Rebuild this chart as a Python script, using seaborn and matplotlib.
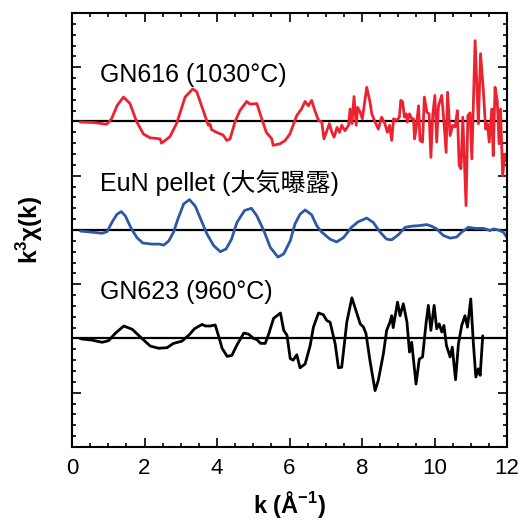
import numpy as np
import pandas as pd
import matplotlib
matplotlib.use("Agg")
import matplotlib.pyplot as plt
from matplotlib.ticker import MultipleLocator
import seaborn as sns

# k^3 chi(k) spectra (k in 1/Angstrom)
k_gn616 = [0.22, 0.6, 0.96, 1.09, 1.25, 1.42, 1.6, 1.78, 1.97, 2.15, 2.43, 2.47, 2.7, 2.89,
           3.12, 3.33, 3.44, 3.62, 3.76, 3.81, 3.85, 3.99, 4.17, 4.27, 4.36,
           4.5, 4.63, 4.82, 4.91, 5.1, 5.19, 5.28, 5.36, 5.51, 5.55, 5.74, 5.88, 6.01, 6.1,
           6.2, 6.33, 6.43, 6.52, 6.61, 6.7, 6.8, 6.89, 6.95, 7.03, 7.1, 7.17, 7.23, 7.31,
           7.38, 7.44, 7.53, 7.63, 7.67, 7.72, 7.78, 7.84, 7.88, 7.95, 8.01, 8.13, 8.22, 8.27,
           8.36, 8.45, 8.54, 8.63, 8.70, 8.76, 8.82, 8.87, 8.96, 9.03, 9.07, 9.12, 9.17, 9.22,
           9.25, 9.31, 9.37, 9.42, 9.45, 9.49, 9.56, 9.6, 9.67, 9.72, 9.79, 9.85, 9.9, 9.95,
           10.01, 10.06, 10.11, 10.2, 10.26, 10.32, 10.36, 10.43, 10.5, 10.57, 10.63, 10.68,
           10.73, 10.78, 10.87, 10.92, 10.98, 11.03, 11.12, 11.21, 11.27, 11.35, 11.41, 11.46,
           11.51, 11.58, 11.62, 11.67, 11.73, 11.78, 11.82, 11.88, 11.94, 11.98, 12.04]
chi_gn616 = [-0.01, -0.02, -0.05, 0.05, 0.3, 0.45, 0.33, 0.0, -0.23, -0.3, -0.32, -0.4, -0.28, -0.03,
             0.45, 0.6, 0.55, 0.2, -0.07, -0.05, -0.15, -0.2, -0.25, -0.35, -0.32,
             0.0, 0.2, 0.37, 0.32, 0.33, 0.14, -0.04, -0.2, -0.32, -0.44, -0.41, -0.35, -0.23, -0.07,
             0.11, 0.23, 0.37, 0.29, 0.39, 0.2, 0.02, -0.01, -0.32, -0.17, -0.04, -0.2, -0.29, -0.11,
             -0.2, -0.07, -0.17, -0.07, 0.23, -0.04, 0.46, -0.07, 0.26, 0.17, 0.05, 0.63, 0.36, 0.14,
             -0.01, -0.14, 0.08, -0.04, -0.2, -0.07, -0.35, 0.05, 0.02, 0.08, 0.39, 0.36, 0.08, 0.14,
             -0.01, 0.14, 0.05, 0.05, -0.32, -0.14, 0.29, -0.35, -0.38, 0.45, 0.17, 0.14, -0.66, 0.11,
             0.48, -0.38, 0.29, 0.48, -0.01, -0.57, 0.54, -0.26, -0.07, -0.1, 0.2, -0.81,
             -0.87, 0.08, -1.55, 0.11, 0.16, -0.69, 1.49, -0.04, 1.25, 0.54, -0.14, -0.04,
             -0.38, 0.23, -0.63, 0.63, 0.39, -0.41, 0.23, -1.0, -0.6, -0.72, -0.5]

k_eun = [0.23, 0.55, 0.83, 0.97, 1.1, 1.24, 1.36, 1.47, 1.64, 1.79, 1.95, 2.21, 2.41, 2.53, 2.67,
         2.8, 2.92, 3.08, 3.24, 3.4, 3.57, 3.72, 3.91, 4.09, 4.25, 4.4, 4.55, 4.76, 4.95, 5.1,
         5.29, 5.47, 5.68, 5.84, 6.02, 6.15, 6.29, 6.43, 6.61, 6.75, 6.89, 7.12, 7.3, 7.49, 7.71,
         7.89, 8.13, 8.31, 8.5, 8.68, 8.82, 9.0, 9.19, 9.37, 9.56, 9.69, 9.78, 9.92, 10.06, 10.24,
         10.43, 10.61, 10.75, 10.93, 11.12, 11.35, 11.53, 11.63, 11.76, 11.9, 12.03]
chi_eun = [-0.02, -0.04, -0.06, -0.03, 0.14, 0.29, 0.34, 0.26, 0.02, -0.14, -0.24, -0.26, -0.26, -0.28, -0.2,
           -0.04, 0.2, 0.48, 0.56, 0.44, 0.17, -0.07, -0.29, -0.4, -0.35, -0.17, 0.14, 0.36, 0.4, 0.26,
           -0.01, -0.32, -0.5, -0.44, -0.2, 0.11, 0.29, 0.37, 0.28, 0.08, -0.04, -0.17, -0.22, -0.14, 0.05,
           0.15, 0.22, 0.14, -0.04, -0.17, -0.18, -0.09, 0.05, 0.07, 0.08, 0.09, 0.1, 0.07, 0.02, -0.1,
           -0.15, -0.13, -0.04, 0.05, 0.03, 0.03, -0.01, 0.02, 0.0, -0.04, -0.17]

k_gn623 = [0.22, 0.28, 0.55, 0.83, 1.01, 1.2, 1.43, 1.66, 1.93, 2.16, 2.39, 2.62, 2.8, 3.03, 3.22,
           3.38, 3.59, 3.68, 3.82, 3.95, 4.05, 4.14, 4.28, 4.41, 4.55, 4.74, 4.87, 5.01, 5.1, 5.2,
           5.33, 5.43, 5.56, 5.75, 5.84, 5.93, 6.02, 6.1, 6.2, 6.29, 6.43, 6.57, 6.66, 6.8, 6.93,
           7.03, 7.12, 7.26, 7.35, 7.44, 7.58, 7.72, 7.86, 7.95, 8.04, 8.11, 8.22, 8.36, 8.45, 8.59,
           8.68, 8.77, 8.82, 8.86, 8.98, 9.05, 9.14, 9.24, 9.31, 9.37, 9.49, 9.58, 9.67, 9.77, 9.83,
           9.9, 9.99, 10.06, 10.13, 10.2, 10.26, 10.33, 10.43, 10.49, 10.58, 10.66, 10.75, 10.84,
           10.91, 11.0, 11.07, 11.14, 11.21, 11.26, 11.33]
chi_gn623 = [0.0, -0.01, -0.03, -0.07, -0.04, 0.1, 0.23, 0.17, 0.0, -0.14, -0.18, -0.17, -0.09, -0.05, 0.06,
             0.18, 0.26, 0.23, 0.23, 0.25, 0.03, -0.18, -0.33, -0.31, -0.12, 0.1, 0.08, 0.0, -0.02, -0.09,
             -0.09, 0.09, 0.37, 0.47, 0.15, 0.06, -0.37, -0.4, -0.3, -0.54, -0.47, -0.13, 0.21, 0.47, 0.44,
             0.33, 0.3, -0.1, -0.54, -0.53, 0.3, 0.75, 0.46, 0.27, 0.21, 0.09, -0.41, -0.96, -0.77, -0.28,
             0.15, 0.3, 0.42, 0.2, 0.67, 0.42, 0.64, 0.3, -0.25, -0.07, -0.84, -0.38, -0.34, 0.3, 0.61,
             0.15, 0.61, 0.18, 0.27, 0.12, 0.24, -0.13, -0.34, -0.16, -0.76, -0.1, 0.24, 0.42,
             0.21, 0.73, -0.07, -0.71, -0.56, -0.68, 0.05]

labels = ["GN616 (1030°C)", "EuN pellet (大気曝露)", "GN623 (960°C)"]
colors = ["#ec2230", "#2b59a4", "#000000"]
x_ticks = [0, 2, 4, 6, 8, 10, 12]

sns.set_theme(style="white")
plt.rcParams["font.family"] = ["Liberation Sans", "Noto Sans CJK JP", "DejaVu Sans"]
plt.rcParams["mathtext.fontset"] = "custom"
plt.rcParams["mathtext.rm"] = "Liberation Sans"
plt.rcParams["mathtext.bf"] = "Liberation Sans:bold"

fig = plt.figure(figsize=(5.26, 5.22), dpi=100)
ax = fig.add_axes([0.1369, 0.1437, 0.8270, 0.8314])

series = [(k_gn616, chi_gn616), (k_eun, chi_eun), (k_gn623, chi_gn623)]
offsets = [4.0, 2.0, 0.0]
for (kk, cc), off, col, lab in zip(series, offsets, colors, labels):
    ax.axhline(off, color="black", lw=1.6, zorder=1)
    df = pd.DataFrame({"k": kk, "y": np.asarray(cc) + off})
    sns.lineplot(data=df, x="k", y="y", ax=ax, color=col, lw=2.0,
                 sort=False, estimator=None, zorder=2)
    ax.text(0.77, off + 0.72, lab, fontsize=18, color="black", va="baseline", ha="left")

ax.set_xlim(0, 12)
ax.set_ylim(-2, 6)
ax.set_xticks(x_ticks)
ax.xaxis.set_minor_locator(MultipleLocator(0.5))
ax.yaxis.set_major_locator(MultipleLocator(1))
ax.yaxis.set_minor_locator(MultipleLocator(0.2))
ax.tick_params(axis="both", which="both", direction="in", top=True, right=True,
               bottom=True, left=True, color="black", width=1.2)
ax.tick_params(which="major", length=6.5)
ax.tick_params(which="minor", length=3)
ax.tick_params(axis="x", labelsize=16, pad=8, labelcolor="black")
ax.tick_params(axis="y", labelleft=False)
for s in ax.spines.values():
    s.set_color("black")
    s.set_linewidth(1.5)

ax.set_xlabel(r"k (Å$^{\mathbf{-1}}$)", fontsize=17, fontweight="bold", color="black")
ax.set_ylabel(r"k$^{\mathbf{3}}$χ(k)", fontsize=17.5, fontweight="bold", color="black")
ax.xaxis.set_label_coords(0.5, -0.097)
ax.yaxis.set_label_coords(-0.062, 0.5)

fig.savefig("out.png", dpi=100)
